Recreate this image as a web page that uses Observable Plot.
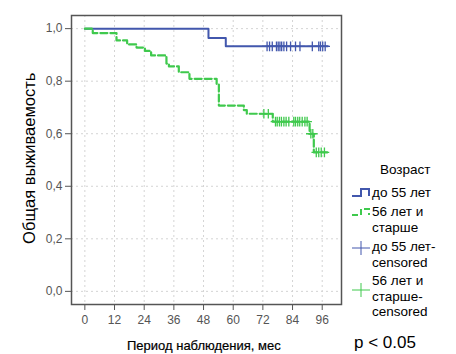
<!DOCTYPE html>
<html>
<head>
<meta charset="utf-8">
<script src="https://cdn.jsdelivr.net/npm/d3@7"></script>
<script src="https://cdn.jsdelivr.net/npm/@observablehq/plot@0.6"></script>
<style>
  html, body { margin: 0; padding: 0; background: #fff; }
  #wrap { position: relative; width: 456px; height: 354px; font-family: "Liberation Sans", Arial, sans-serif; overflow: hidden; }
  #chart svg { display: block; }
  .ov { position: absolute; left: 0; top: 0; white-space: nowrap; color: #000; line-height: 1; }
  #ylab { font-size: 16.5px; }
  #xlab { font-size: 13px; font-weight: 500; -webkit-text-stroke: 0.2px #000; }
  #pval { font-size: 17px; }
  #legend { left: 350px; top: 160px; font-size: 13.5px; line-height: 15.5px; }
  #legend .title { position: absolute; left: 30px; top: 2px; }
  #legend .item { position: absolute; left: 22px; }
  #legend svg { position: absolute; left: 0; }
</style>
</head>
<body>
<div id="wrap">
  <div id="chart"></div>
  <div class="ov" id="ylab">Общая выживаемость</div>
  <div class="ov" id="xlab">Период наблюдения, мес</div>
  <div class="ov" id="pval">p &lt; 0.05</div>
  <div class="ov" id="legend"></div>
</div>
<script>
// ---- data ----
const xTicks = [0, 12, 24, 36, 48, 60, 72, 84, 96];
const yTicks = [0, 0.2, 0.4, 0.6, 0.8, 1.0];

const groupNames = ["до 55 лет", "56 лет и старше"];
const legendTitle = "Возраст";

// group 1 (до 55 лет): step times and survival
const blueTime = [0, 50, 57, 98.3];
const blueSurv = [1.0, 0.964, 0.9325, 0.9325];
const blueCensor = [73.7, 74.7, 75.8, 77.5, 78.2, 78.9, 79.6, 80.5, 81.6, 83.2, 85.2, 87.0, 92.0, 94.6, 95.3, 96.2, 97.2];

// group 2 (56 лет и старше)
const greenTime = [0, 3.2, 12.8, 17.1, 20.9, 24.3, 26.8, 33.0, 34.0, 38.0, 42.3, 53.3, 54.2, 64.3, 65.5, 76.0, 90.9, 92.6, 98.0];
const greenSurv = [1.0, 0.983, 0.955, 0.940, 0.928, 0.915, 0.898, 0.867, 0.856, 0.834, 0.809, 0.790, 0.707, 0.690, 0.676, 0.646, 0.600, 0.529, 0.529];
const greenCensor = [72.4, 74.2, 77.1, 77.8, 78.7, 79.5, 80.5, 81.4, 82.5, 84.5, 85.2, 86.1, 86.9, 87.9, 89.0, 89.9, 91.4, 92.2, 93.6, 94.6, 95.6, 96.9];

const blueColor = "#4257ad";
const greenColor = "#3fc94d";

// ---- build tables ----
const curve = (T, S) => T.map((t, i) => ({t, s: S[i]}));
const stepAt = (T, S, t) => { let v = S[0]; for (let i = 0; i < T.length; i++) if (T[i] <= t) v = S[i]; return v; };
const blueLine = curve(blueTime, blueSurv);
const greenLine = curve(greenTime, greenSurv);
const blueCens = blueCensor.map(t => ({t, s: stepAt(blueTime, blueSurv, t)}));
const greenCens = greenCensor.map(t => ({t, s: stepAt(greenTime, greenSurv, t)}));

const chart = Plot.plot({
  width: 456,
  height: 354,
  marginLeft: 71,
  marginTop: 15,
  marginRight: 115,
  marginBottom: 50,
  style: {fontFamily: "'Liberation Sans', Arial, sans-serif", fontSize: "12px", background: "transparent", overflow: "visible"},
  x: {domain: [-5.4, 103.8]},
  y: {domain: [-0.05, 1.05]},
  marks: [
    Plot.gridX(xTicks, {stroke: "#d4d4d4", strokeOpacity: 1, strokeDasharray: "2,3"}),
    Plot.gridY(yTicks, {stroke: "#d4d4d4", strokeOpacity: 1, strokeDasharray: "2,3"}),
    Plot.axisX(xTicks, {tickSize: 6, tickPadding: 5, label: null, color: "#555", tickFormat: d => String(d)}),
    Plot.axisY(yTicks, {tickSize: 6, tickPadding: 3, label: null, color: "#555", tickFormat: d => d.toFixed(1).replace(".", ",")}),
    Plot.frame({stroke: "#555", strokeWidth: 1.5}),
    Plot.line(blueLine, {x: "t", y: "s", curve: "step-after", stroke: blueColor, strokeWidth: 2}),
    Plot.line(greenLine, {x: "t", y: "s", curve: "step-after", stroke: greenColor, strokeWidth: 2.2, strokeDasharray: "7,3"}),
    Plot.dot(blueCens, {x: "t", y: "s", symbol: "plus", r: 3.2, stroke: blueColor, strokeWidth: 1.3}),
    Plot.dot(greenCens, {x: "t", y: "s", symbol: "plus", r: 3.2, stroke: greenColor, strokeWidth: 1.3})
  ]
});
document.getElementById("chart").appendChild(chart);

// ---- text overlays: place by measured centre ----
function placeCentre(id, cx, cy, rotate) {
  const el = document.getElementById(id);
  const w = el.offsetWidth, h = el.offsetHeight;
  el.style.left = (cx - w / 2) + "px";
  el.style.top = (cy - h / 2) + "px";
  if (rotate) el.style.transform = "rotate(" + rotate + "deg)";
}
placeCentre("ylab", 29, 158, -90);
placeCentre("xlab", 204, 345, 0);
(function () {
  const el = document.getElementById("pval");
  el.style.left = "354px";
  el.style.top = (342 - el.offsetHeight / 2) + "px";
})();

// ---- legend ----
const lg = document.getElementById("legend");
lg.style.left = "350px"; lg.style.top = "160px"; lg.style.lineHeight = "15.5px";
lg.innerHTML = `
  <div class="title">${legendTitle}</div>
  <svg width="22" height="14" style="top:26px"><path d="M2,10 H11 V3 H19 V10" fill="none" stroke="${blueColor}" stroke-width="2"/></svg>
  <div class="item" style="top:25px">${groupNames[0]}</div>
  <svg width="22" height="14" style="top:45px"><path d="M2,10 H11 V4 H19 V10" fill="none" stroke="${greenColor}" stroke-width="2" stroke-dasharray="6,3"/></svg>
  <div class="item" style="top:44px">56 лет и<br>старше</div>
  <svg width="22" height="16" style="top:80px"><path d="M2,8 H20 M11,1 V15" fill="none" stroke="${blueColor}" stroke-width="1"/></svg>
  <div class="item" style="top:79px">${groupNames[0]}-<br>censored</div>
  <svg width="22" height="16" style="top:122px"><path d="M2,8 H20 M11,1 V15" fill="none" stroke="${greenColor}" stroke-width="1"/></svg>
  <div class="item" style="top:113px">56 лет и<br>старше-<br>censored</div>
`;
</script>
</body>
</html>
